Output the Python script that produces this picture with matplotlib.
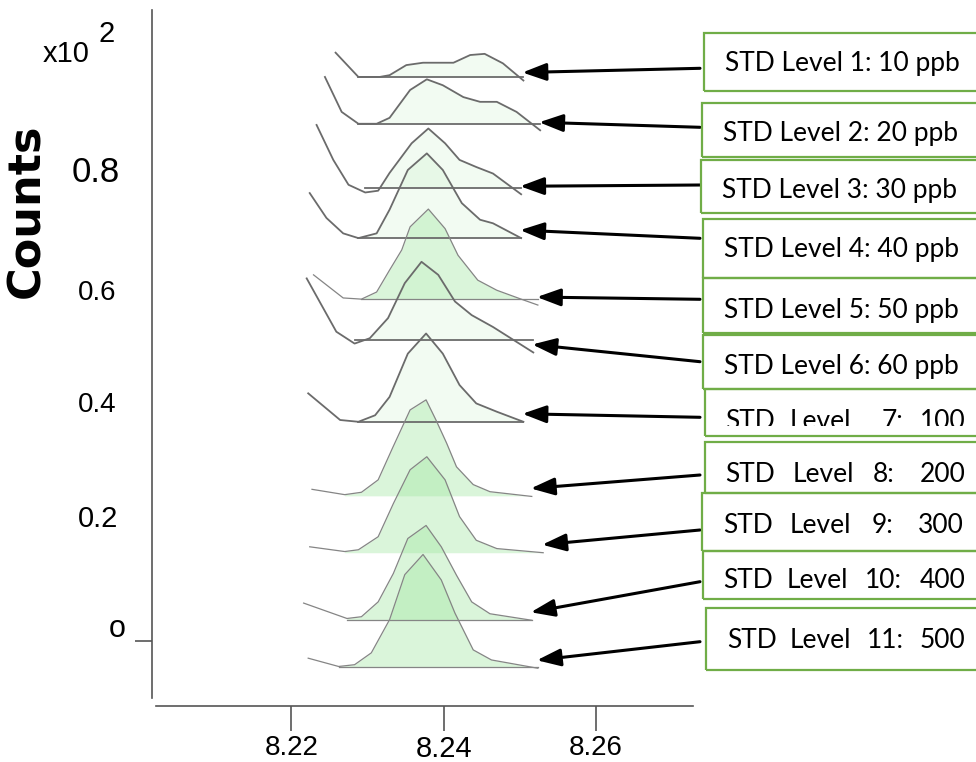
import numpy as np
import matplotlib
matplotlib.use('Agg')
import matplotlib.pyplot as plt
import matplotlib.transforms as mtransforms
from matplotlib.patches import Rectangle

W, H = 976, 762

# 保留时间 (min) / 信号 (x10^2 counts，相对各自基线)，从上到下 Level 1 ~ 11
rt_1 = [8.2258, 8.2288, 8.2316, 8.2329, 8.2351, 8.2373, 8.2413, 8.2435, 8.2454, 8.2478, 8.2505]
cnt_1 = [0.041, 0.000, 0.000, 0.003, 0.020, 0.024, 0.024, 0.037, 0.039, 0.023, -0.006]
rt_2 = [8.2244, 8.2266, 8.2288, 8.2312, 8.2329, 8.2356, 8.2378, 8.2399, 8.2426, 8.2448, 8.2470, 8.2496, 8.2527]
cnt_2 = [0.079, 0.020, 0.000, 0.000, 0.010, 0.057, 0.075, 0.065, 0.045, 0.037, 0.037, 0.020, -0.011]
rt_3 = [8.2233, 8.2255, 8.2275, 8.2297, 8.2314, 8.2329, 8.2358, 8.2380, 8.2402, 8.2421, 8.2443, 8.2465, 8.2502]
cnt_3 = [0.107, 0.048, 0.006, -0.007, -0.004, 0.026, 0.076, 0.101, 0.076, 0.048, 0.036, 0.025, -0.010]
rt_4 = [8.2224, 8.2246, 8.2268, 8.2288, 8.2312, 8.2329, 8.2353, 8.2378, 8.2399, 8.2424, 8.2448, 8.2465, 8.2502]
cnt_4 = [0.075, 0.033, 0.007, -0.001, 0.007, 0.047, 0.114, 0.142, 0.114, 0.058, 0.030, 0.024, -0.001]
rt_5 = [8.2229, 8.2268, 8.2292, 8.2312, 8.2329, 8.2345, 8.2356, 8.2380, 8.2402, 8.2419, 8.2445, 8.2470, 8.2502, 8.2524]
cnt_5 = [0.041, 0.002, 0.000, 0.012, 0.049, 0.083, 0.122, 0.152, 0.119, 0.074, 0.032, 0.015, 0.000, -0.010]
rt_6 = [8.2220, 8.2259, 8.2283, 8.2303, 8.2327, 8.2349, 8.2371, 8.2393, 8.2415, 8.2437, 8.2465, 8.2518]
cnt_6 = [0.104, 0.014, -0.006, 0.003, 0.037, 0.096, 0.132, 0.110, 0.065, 0.042, 0.022, -0.021]
rt_7 = [8.2222, 8.2264, 8.2288, 8.2310, 8.2329, 8.2353, 8.2377, 8.2399, 8.2421, 8.2443, 8.2470, 8.2505]
cnt_7 = [0.048, 0.003, 0.000, 0.011, 0.042, 0.115, 0.149, 0.115, 0.062, 0.031, 0.017, 0.000]
rt_8 = [8.2227, 8.2270, 8.2292, 8.2314, 8.2333, 8.2356, 8.2377, 8.2390, 8.2404, 8.2417, 8.2439, 8.2461, 8.2516]
cnt_8 = [0.011, 0.002, 0.006, 0.027, 0.081, 0.145, 0.162, 0.128, 0.089, 0.049, 0.019, 0.007, -0.001]
rt_9 = [8.2224, 8.2270, 8.2288, 8.2314, 8.2334, 8.2356, 8.2378, 8.2402, 8.2421, 8.2443, 8.2470, 8.2531]
cnt_9 = [0.010, 0.002, 0.005, 0.027, 0.083, 0.140, 0.162, 0.123, 0.061, 0.021, 0.007, 0.000]
rt_10 = [8.2216, 8.2273, 8.2292, 8.2314, 8.2334, 8.2353, 8.2377, 8.2397, 8.2417, 8.2437, 8.2461, 8.2516]
cnt_10 = [0.029, 0.003, 0.006, 0.031, 0.079, 0.138, 0.160, 0.124, 0.076, 0.031, 0.011, 0.000]
rt_11 = [8.2222, 8.2262, 8.2283, 8.2305, 8.2329, 8.2349, 8.2373, 8.2397, 8.2415, 8.2439, 8.2463, 8.2524]
cnt_11 = [0.015, 0.001, 0.004, 0.024, 0.080, 0.156, 0.190, 0.147, 0.091, 0.029, 0.012, -0.002]

rts = [rt_1, rt_2, rt_3, rt_4, rt_5, rt_6, rt_7, rt_8, rt_9, rt_10, rt_11]
cnts = [cnt_1, cnt_2, cnt_3, cnt_4, cnt_5, cnt_6, cnt_7, cnt_8, cnt_9, cnt_10, cnt_11]
# 堆叠时各曲线的基线高度
baselines = [0.952, 0.873, 0.764, 0.681, 0.577, 0.508, 0.370, 0.245, 0.149, 0.035, -0.044]
# 深色填充的几条（截图里颜色更绿）
strong = [False, False, False, False, True, False, False, True, True, True, True]
has_base = [True, True, True, True, True, True, True, False, False, True, True]

labels_a = ['STD Level 1: 10 ppb', 'STD Level 2: 20 ppb', 'STD Level 3: 30 ppb',
            'STD Level 4: 40 ppb', 'STD Level 5: 50 ppb', 'STD Level 6: 60 ppb']
labels_b = [['STD', 'Level', '7:', '100'], ['STD', 'Level', '8:', '200'],
            ['STD', 'Level', '9:', '300'], ['STD', 'Level', '10:', '400'],
            ['STD', 'Level', '11:', '500']]

xticks = [8.22, 8.24, 8.26]
xticklabels = ['8.22', '8.24', '8.26']


def fx(px):
    return px / W


def fy(py):
    return 1 - py / H


fig = plt.figure(figsize=(W / 100, H / 100), dpi=100)
ax = fig.add_axes([fx(152.3), fy(698), (693 - 152.3) / W, (698 - 10) / H])
ax.set_xlim(8.2017, 8.2728)
ax.set_ylim(-0.0962, 1.065)

GREEN = '#a0e6a0'
for rt, cnt, base, st, hb in zip(rts, cnts, baselines, strong, has_base):
    x = np.array(rt)
    c = np.array(cnt)
    # 左侧拖尾落到基线的位置，从这里开始填充
    i0 = int(np.argmin(c[:len(c) // 2]))
    ax.fill_between(x[i0:], c[i0:] + base, base, where=c[i0:] >= 0, interpolate=True,
                    color=GREEN, alpha=0.38 if st else 0.13, lw=0)
    lc = '#858585' if st else '#6b6b6b'
    lw = 0.9 if st else 1.3
    ax.plot(x, c + base, color=lc, lw=lw)
    if hb:
        ax.plot([x[i0], x[-1]], [base, base], color=lc, lw=lw)

# 坐标轴
for s in ['top', 'right']:
    ax.spines[s].set_visible(False)
ax.spines['left'].set_color('#555555')
ax.spines['left'].set_linewidth(1.2)
ax.spines['bottom'].set_color('#555555')
ax.spines['bottom'].set_linewidth(1.2)
ax.spines['bottom'].set_position(('outward', 5.8))
ax.spines['bottom'].set_bounds(8.2022, 8.2728)
ax.set_xticks(xticks)
ax.set_xticklabels(xticklabels, fontfamily='Liberation Sans', fontsize=20)
ax.get_xticklabels()[1].set_fontsize(21)
ax.tick_params(axis='x', direction='out', length=18, width=1.2, color='#555555', pad=2.5)
ax.set_yticks([0])
ax.set_yticklabels([''])
ax.tick_params(axis='y', direction='out', length=12.2, width=1.2, color='#555555')

# y 轴文字
ytxt = dict(family='Liberation Sans', ha='left', va='baseline')
fig.text(fx(42.7), fy(61.7), 'x10', fontsize=21, **ytxt)
fig.text(fx(98), fy(41.7), '2', fontsize=21, **ytxt)
fig.text(fx(71.7), fy(181.7), '0.8', fontsize=25, **ytxt)
fig.text(fx(78), fy(300), '0.6', fontsize=20, **ytxt)
fig.text(fx(78), fy(411.7), '0.4', fontsize=20, **ytxt)
fig.text(fx(78), fy(526.7), '0.2', fontsize=21, **ytxt)
fig.text(fx(109), fy(636.7), 'o', fontsize=22, **ytxt)
fig.text(fx(27), fy(211), 'Counts', family='DejaVu Sans', fontweight='bold',
         fontsize=32, rotation=90, ha='center', va='center')

# 标注框
boxes = [(704, 32.7, 90.7), (702, 102.7, 157.3), (701, 160, 212.7), (703, 218.7, 278.3),
         (703, 278.3, 333.3), (703.3, 335, 389.3), (705, 389.3, 436), (705, 441.7, 493.3),
         (701.7, 493.3, 550.7), (703, 550.7, 599.3), (706, 608.3, 670)]
text_base = [71, 141, 198, 257, 317.5, 374.5, 429.5, 481.7, 533.3, 588.3, 648.3]
text_left = [725, 723.3, 721.7, 724.3, 724.3, 724.3]
word_left = [[725, 790, 881.7, 920], [725, 793, 873, 920], [723, 790, 872, 918],
             [723, 787, 865, 920], [727, 790, 867, 920]]
tails = [68.3, 127.3, 185, 238.3, 299.3, 361.7, 417.3, 475, 530, 581.7, 641.7]

for x0, y0, y1 in boxes:
    fig.patches.append(Rectangle((fx(x0), fy(y1)), fx(990 - x0), (y1 - y0) / H,
                                 transform=fig.transFigure, fill=False,
                                 edgecolor='#70ad47', lw=1.6))

bfont = dict(family='Lato', fontsize=19, ha='left', va='baseline')
for i, lab in enumerate(labels_a):
    fig.text(fx(text_left[i]), fy(text_base[i]), lab, **bfont)
for j, words in enumerate(labels_b):
    i = j + 6
    for w, xl in zip(words, word_left[j]):
        t = fig.text(fx(xl), fy(text_base[i]), w, **bfont)
        if i == 6:
            clip = mtransforms.TransformedBbox(
                mtransforms.Bbox.from_extents(0, fy(426), 1, 1), fig.transFigure)
            t.set_clip_box(clip)
            t.set_clip_on(True)

# 箭头：从标注框指向各曲线末端
tip_tr = mtransforms.offset_copy(ax.transData, fig=fig, x=-1, y=8, units='dots')
for rt, cnt, base, ty in zip(rts, cnts, baselines, tails):
    ax.annotate('', xy=(rt[-1], cnt[-1] + base), xycoords=tip_tr,
                xytext=(fx(700), fy(ty)), textcoords='figure fraction',
                arrowprops=dict(arrowstyle='-|>,head_length=0.6,head_width=0.22',
                                color='black', lw=2.2, mutation_scale=24,
                                shrinkA=0, shrinkB=0))

fig.savefig('out.png', dpi=100)
